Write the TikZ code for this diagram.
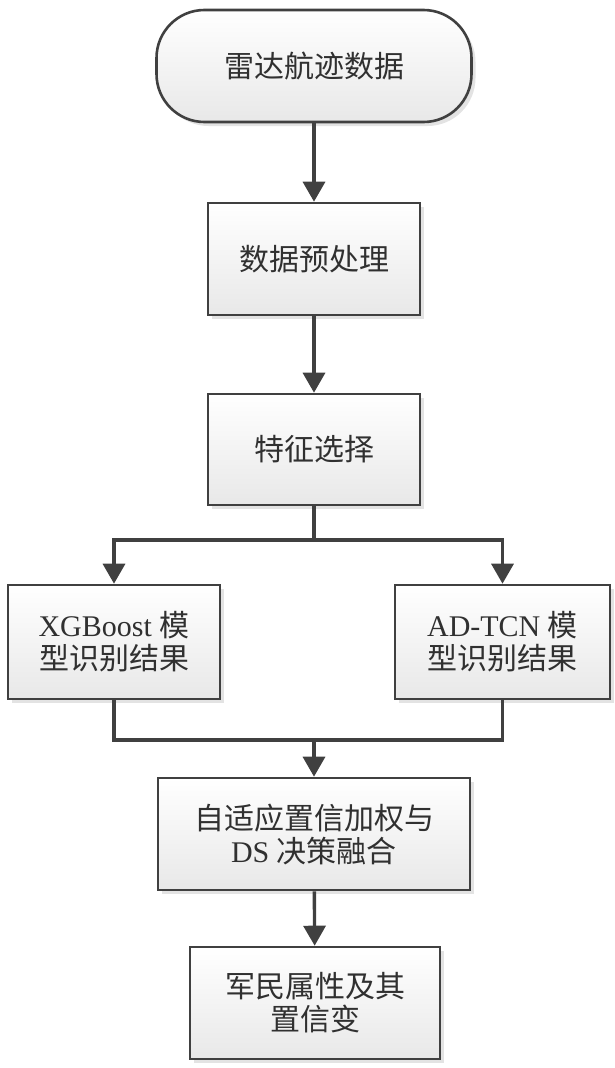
\documentclass[tikz,border=0pt]{standalone}
\usepackage{fontspec}
\setmainfont{Liberation Serif}
\newfontfamily\cjk{Noto Sans CJK SC}
\usepackage{tikz}
\usetikzlibrary{arrows.meta}
\usetikzlibrary{shadows}

\definecolor{linegray}{HTML}{404040}
\definecolor{textgray}{HTML}{303030}

\begin{document}
\begin{tikzpicture}[x=1pt, y=1pt,
    box/.style={draw=linegray, line width=2.6pt, top color=white, bottom color=black!9,
        drop shadow={shadow xshift=4pt, shadow yshift=-4pt, fill=black!22},
        inner sep=0pt, align=center, text=textgray,
        font=\fontsize{30}{33}\selectfont},
    conn/.style={draw=linegray, line width=3.4pt},
    arr/.style={conn, -{Triangle[length=20pt, width=22pt]}}]
    \useasboundingbox (0, 0) rectangle (615, -1068); % page size
    \node[box, rounded corners=48pt, minimum width=315pt, minimum height=112pt] (start) at (314, -66) {\cjk 雷达航迹数据};
    \node[box, minimum width=212pt, minimum height=112pt] (preproc) at (314, -259) {\cjk 数据预处理};
    \node[box, minimum width=212pt, minimum height=111pt] (featsel) at (314, -449.5) {\cjk 特征选择};
    \node[box, minimum width=212pt, minimum height=114pt] (xgb) at (114, -642) {XGBoost {\cjk 模}\\{\cjk 型识别结果}};
    \node[box, minimum width=215pt, minimum height=114pt] (adtcn) at (502.5, -642) {AD-TCN {\cjk 模}\\{\cjk 型识别结果}};
    \node[box, minimum width=312pt, minimum height=112pt] (fusion) at (314, -834) {{\cjk 自适应置信加权与}\\DS {\cjk 决策融合}};
    \node[box, minimum width=250pt, minimum height=112pt] (result) at (315, -1003) {{\cjk 军民属性及其}\\{\cjk 置信变}};
    \coordinate (split) at (314, -540);
    \coordinate (join) at (314, -740);
    \draw[arr] (start) -- (preproc);
    \draw[arr] (preproc) -- (featsel);
    \draw[conn] (featsel.south) -- (split);
    \draw[arr] (split) -| (xgb.north);
    \draw[arr] (split) -| (adtcn.north);
    \draw[conn] (xgb.south) |- (join) -| (adtcn.south);
    \draw[arr] (join) -- (fusion);
    \draw[arr] (fusion) -- (result);
\end{tikzpicture}
\end{document}
